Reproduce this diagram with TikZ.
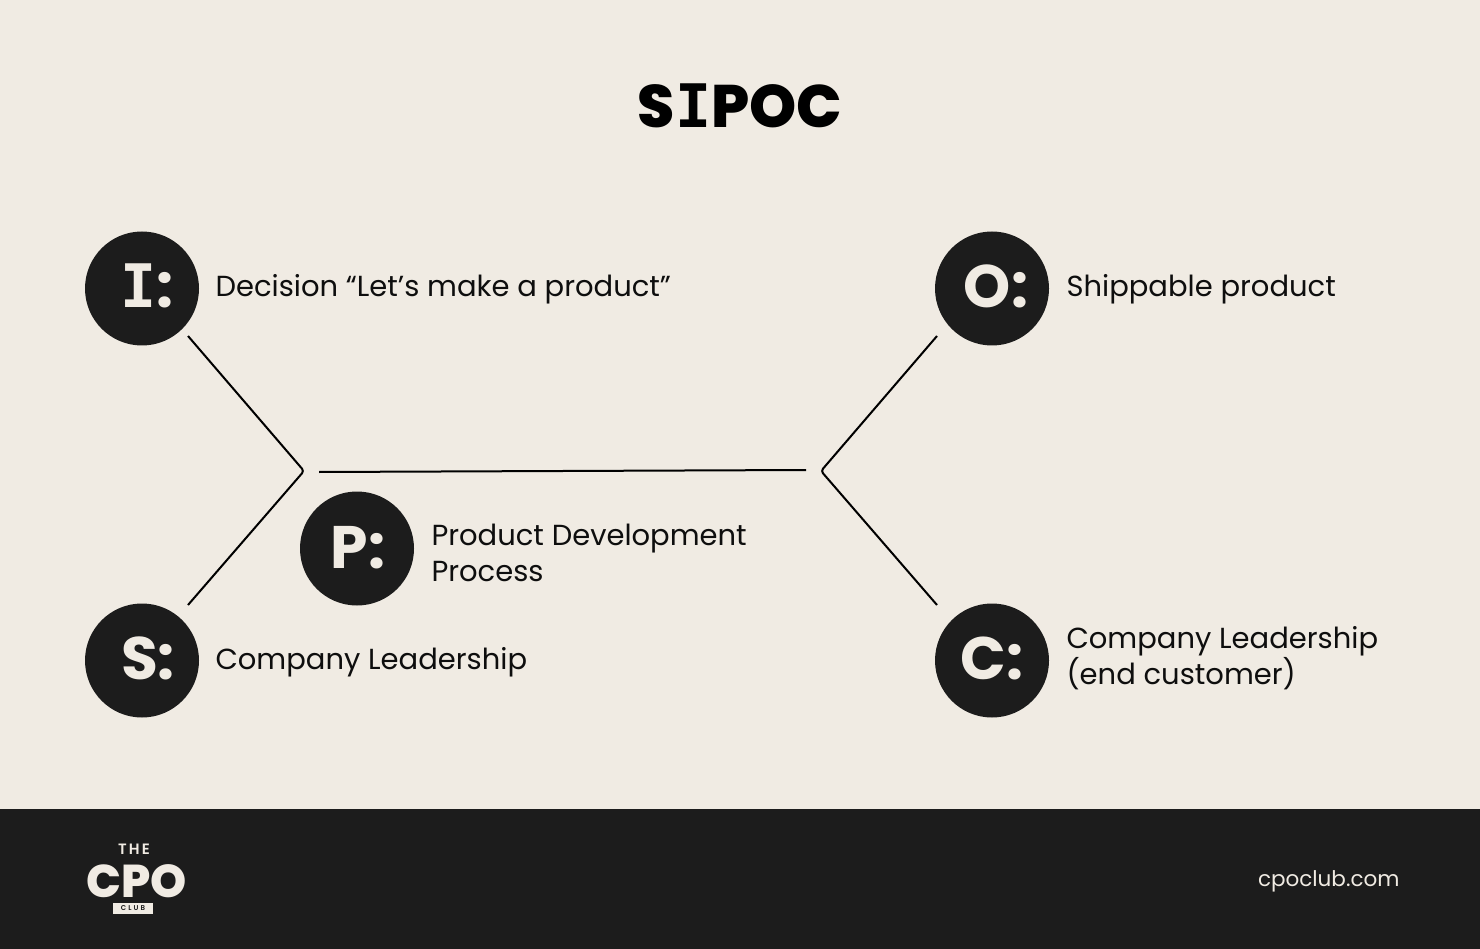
\documentclass[tikz,border=0pt]{standalone}
\usepackage{fontspec}
\setmainfont{Poppins}
\newfontfamily\headfont{Poppins ExtraBold}
\newfontfamily\letterfont{Poppins Bold}
\newfontfamily\slabfont{DejaVu Sans Mono Bold}
\newfontfamily\logofont[LetterSpace=14]{Poppins SemiBold}
\newfontfamily\clubfont[LetterSpace=30]{Poppins SemiBold}
\definecolor{paper}{HTML}{F0EBE3}
\definecolor{ink}{HTML}{1C1C1C}
\definecolor{deep}{HTML}{0E0E0E}
\tikzset{
  letter/.style={circle, fill=ink, minimum size=114pt, inner sep=0pt},
  glyph/.style={text=paper, inner sep=0pt, font=\letterfont\fontsize{60}{60}\selectfont},
  caption/.style={anchor=west, text=deep, align=left, font=\fontsize{29}{36}\selectfont},
  arm/.style={draw=black, line width=2pt, rounded corners=3pt}
}
\begin{document}
\begin{tikzpicture}[x=1pt,y=-1pt]
  \useasboundingbox (0,0) rectangle (1480,949);
  % Draw the background
  \fill[paper] (0,0) rectangle (1480,949);
  \fill[ink] (0,809) rectangle (1480,949);

  \node[text=black, font=\headfont\fontsize{60}{60}\selectfont] (title) at (740,106) {S{\slabfont I}POC};

  % Draw the circles
  \node[letter] (i) at (142,288.5) {};
  \node[letter] (s) at (142,660.5) {};
  \node[letter] (p) at (357,548.5) {};
  \node[letter] (o) at (992,288.5) {};
  \node[letter] (c) at (992,660.5) {};

  % Draw the letters
  \node[glyph] (iletter) at (147,286) {{\slabfont I}:};
  \node[glyph] (sletter) at (148,658) {S:};
  \node[glyph] (pletter) at (358,548) {P:};
  \node[glyph] (oletter) at (996,286) {O:};
  \node[glyph] (cletter) at (992,658) {C:};

  % Draw the texts
  \node[caption] (itext) at (212,289) {Decision “Let’s make a product”};
  \node[caption] (stext) at (212,662) {Company Leadership};
  \node[caption] (ptext) at (428,553) {Product Development\\Process};
  \node[caption] (otext) at (1063,289) {Shippable product};
  \node[caption] (ctext) at (1063,658) {Company Leadership\\(end customer)};

  % Draw the lines
  \coordinate (leftjoin) at (304,471);
  \coordinate (rightjoin) at (821,471);
  \coordinate (spinestart) at (319,472);
  \coordinate (spineend) at (806,470);
  \coordinate (iend) at (188,336);
  \coordinate (send) at (188,605);
  \coordinate (oend) at (937,336);
  \coordinate (cend) at (937,605);
  \draw[arm] (iend) -- (leftjoin) -- (send);
  \draw[arm] (oend) -- (rightjoin) -- (cend);
  \draw[arm] (spinestart) -- (spineend);

  % Draw the footer
  \node[text=paper, inner sep=0pt, font=\logofont\fontsize{15}{15}\selectfont] (the) at (134,849) {THE};
  \node[text=paper, inner sep=0pt, font=\headfont\fontsize{46}{46}\selectfont] (cpo) at (137,881.5) {CPO};
  \node[fill=paper, text=ink, inner sep=0pt, minimum width=40pt, minimum height=11pt, font=\clubfont\fontsize{7}{7}\selectfont] (club) at (133,908.5) {CLUB};
  \node[anchor=east, text=paper, font=\fontsize{21.5}{21.5}\selectfont] (url) at (1403,881) {cpoclub.com};
\end{tikzpicture}
\end{document}
